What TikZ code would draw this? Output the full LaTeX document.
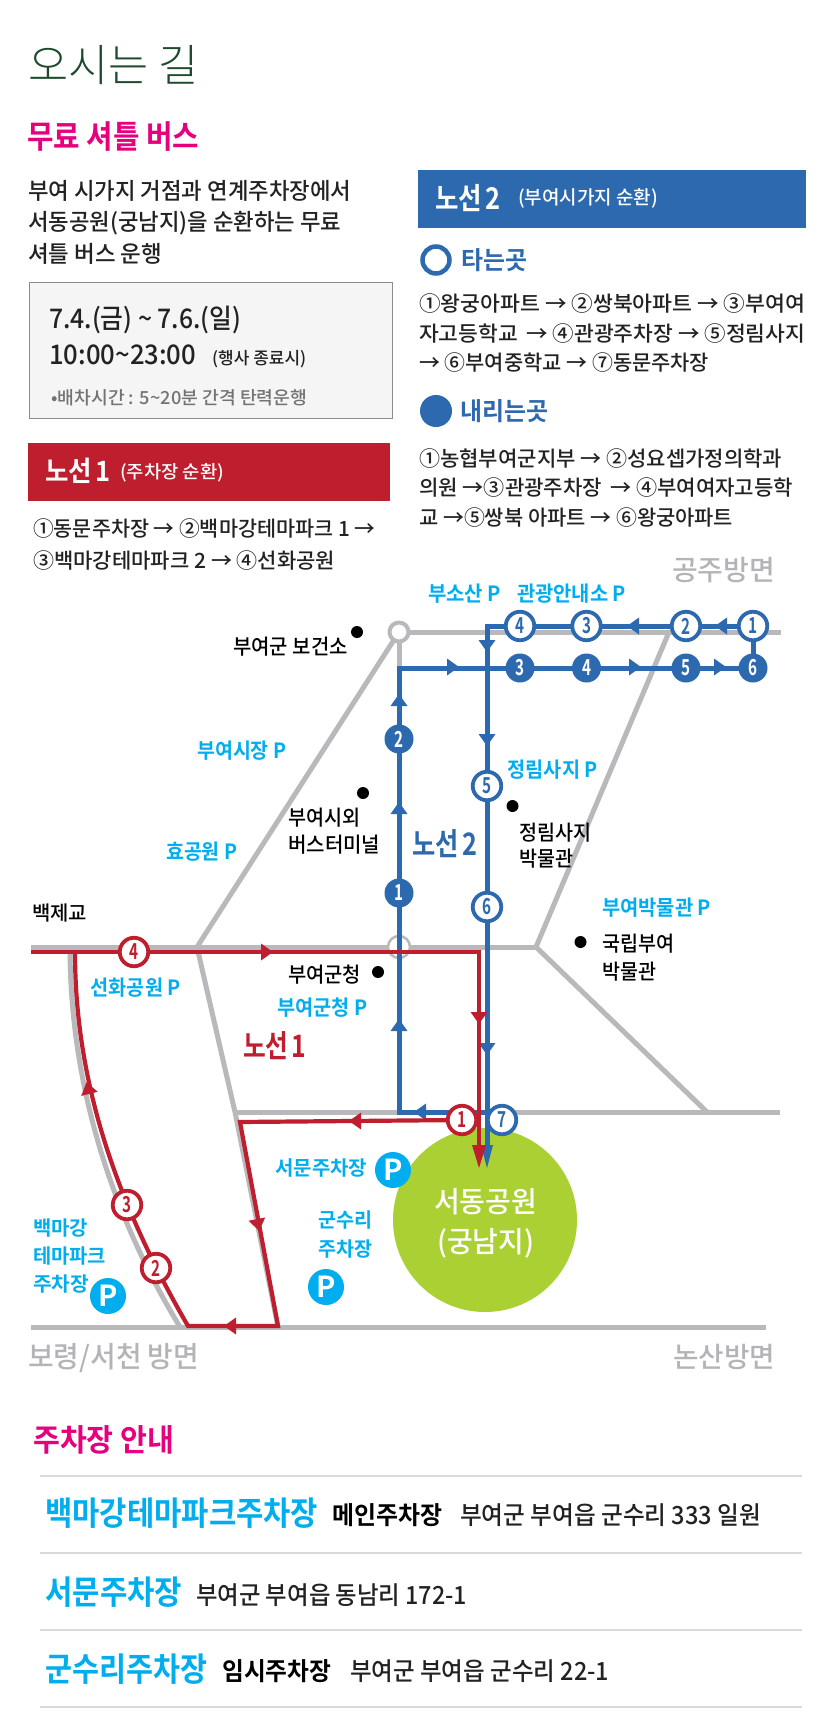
\documentclass[tikz,border=0pt]{standalone}
\usepackage{fontspec}
\usepackage{graphicx}
\usetikzlibrary{arrows.meta}
\setmainfont{Noto Sans CJK KR Medium}[BoldFont={Noto Sans CJK KR Bold}]
\newfontfamily\lightfont{Noto Sans CJK KR Light}
\definecolor{rblue}{HTML}{2D69AE}
\definecolor{rred}{HTML}{BE1E2D}
\definecolor{rcyan}{HTML}{00AEEF}
\definecolor{rmag}{HTML}{E6007E}
\definecolor{rroad}{HTML}{B9B9BC}
\definecolor{rgreen}{HTML}{ABD033}
\definecolor{rdir}{HTML}{B4B4B6}
\definecolor{rtxt}{HTML}{222222}
\definecolor{rtitle}{HTML}{1C4A2A}
\pgfdeclarelayer{road}
\pgfdeclarelayer{junct}
\pgfdeclarelayer{route}
\pgfsetlayers{road,junct,route,main}
\newcounter{tn}
\newcommand\lab[5]{\stepcounter{tn}\node[lbl,#4] (t\arabic{tn}) at (#1,{#2+1.5}) {\resizebox{#3pt}{\height}{\vphantom{(}#5}};}
\newcommand\hd[4]{\fill[#4,shift={(#1,#2)},rotate=#3] (6,0)--(-6,8.5)--(-6,-8.5)--cycle;}
\newcommand\sn[1]{\resizebox{9pt}{\height}{\bfseries #1}}
\tikzset{
  fs/.style={font=\fontsize{#1pt}{#1pt}\selectfont},
  lbl/.style={anchor=west,inner sep=0pt,text=rtxt},
  road/.style={draw=rroad,line width=5pt},
  bline/.style={draw=rblue,line width=5pt},
  rline/.style={draw=rred,line width=4.2pt},
  stopo/.style={circle,draw=#1,fill=white,line width=3.8pt,minimum size=28.5pt,inner sep=0pt,text=#1,fs=22},
  stopf/.style={circle,fill=rblue,minimum size=29pt,inner sep=0pt,text=white,fs=22},
  dot/.style={circle,fill=black,minimum size=12pt,inner sep=0pt},
  pbadge/.style={circle,fill=rcyan,minimum size=36pt,inner sep=0pt,text=white,font=\fontsize{29pt}{29pt}\selectfont\bfseries},
  cy/.style={fs=#1,text=rcyan},
  dirl/.style={fs=#1,text=rdir},
}
\begin{document}
\begin{tikzpicture}[x=1pt,y=-1pt]
\useasboundingbox (0,0) rectangle (835,1734);
\begin{pgfonlayer}{road}
\fill[white] (0,0) rectangle (835,1734);
\end{pgfonlayer}

% header
\lab{28}{66}{170}{fs=44,text=rtitle}{\lightfont 오시는 길}
\lab{27}{137}{172}{fs=32,text=rmag}{\bfseries 무료 셔틀 버스}
\lab{28}{191}{323}{fs=23}{부여 시가지 거점과 연계주차장에서}
\lab{28}{222}{313}{fs=23}{서동공원(궁남지)을 순환하는 무료}
\lab{28}{254}{134}{fs=23}{셔틀 버스 운행}

% info box
\node[draw=black!45,fill=black!4,line width=1.3pt,minimum width=363pt,minimum height=136pt,inner sep=0pt,anchor=north west] (infobox) at (28.5,282) {};
\lab{49}{318}{192}{fs=27}{7.4.(금) \textasciitilde{} 7.6.(일)}
\lab{49}{355}{147}{fs=27}{10:00\textasciitilde23:00}
\lab{212}{358}{94}{fs=17}{(행사 종료시)}
\lab{51}{397}{256}{fs=18,text=black!55}{•배차시간 : 5\textasciitilde20분 간격 탄력운행}

% route 1 panel
\node[fill=rred,minimum width=362pt,minimum height=58pt,inner sep=0pt,anchor=north west] (redbox) at (28,443) {};
\lab{45}{471}{65}{fs=28,text=white}{\bfseries 노선\hspace{.12em}1}
\lab{120}{471}{104}{fs=18,text=white}{(주차장 순환)}
\lab{33}{528}{342}{fs=21}{①동문주차장 → ②백마강테마파크 1 →}
\lab{33}{560}{302}{fs=21}{③백마강테마파크 2 → ④선화공원}

% route 2 panel
\node[fill=rblue,minimum width=388pt,minimum height=58pt,inner sep=0pt,anchor=north west] (bluebox) at (418,170) {};
\lab{435}{198}{65}{fs=30,text=white}{\bfseries 노선\hspace{.12em}2}
\lab{518}{197}{140}{fs=19,text=white}{(부여시가지 순환)}
\node[circle,draw=rblue,fill=white,line width=4.5pt,minimum size=27pt,inner sep=0pt] (legopen) at (436,260) {};
\lab{461}{260}{66}{fs=25,text=rblue}{\bfseries 타는곳}
\lab{419}{303}{386}{fs=21}{①왕궁아파트 → ②쌍북아파트 → ③부여여}
\lab{419}{333}{386}{fs=21}{자고등학교 \,→ ④관광주차장 → ⑤정림사지}
\lab{419}{362}{290}{fs=21}{→ ⑥부여중학교 → ⑦동문주차장}
\node[circle,fill=rblue,minimum size=32pt,inner sep=0pt] (legfill) at (436,411) {};
\lab{460}{411}{88}{fs=25,text=rblue}{\bfseries 내리는곳}
\lab{419}{458}{363}{fs=21}{①농협부여군지부 → ②성요셉가정의학과}
\lab{419}{487}{374}{fs=21}{의원 →③관광주차장 \,→ ④부여여자고등학}
\lab{419}{517}{314}{fs=21}{교 →⑤쌍북 아파트 → ⑥왕궁아파트}

% map: junctions and park
\begin{pgfonlayer}{junct}
\node[circle,draw=rroad,fill=white,line width=4pt,minimum size=19pt,inner sep=0pt] (j1) at (399,632) {};
\node[circle,draw=rroad,fill=white,line width=2.5pt,minimum size=22pt,inner sep=0pt] (j2) at (399,947) {};
\node[circle,fill=rgreen,minimum size=184pt,inner sep=0pt] (park) at (485,1220) {};
\end{pgfonlayer}
\lab{434}{1202}{103}{fs=29,text=white}{서동공원}
\lab{437}{1242}{97}{fs=29,text=white}{(궁남지)}

% named points of the roads
\coordinate (rE) at (781,632);
\coordinate (rS1) at (669,632);
\coordinate (rX) at (536,947);
\coordinate (rW) at (31,947);
\coordinate (rY) at (197,947);
\coordinate (rSE) at (707,1112);
\coordinate (rSEe) at (780,1112);
\coordinate (rM) at (235,1112);
\coordinate (rB) at (278,1327);
\coordinate (rBw) at (31,1327);
\coordinate (rBe) at (766,1327);
\coordinate (rC1) at (70,947);
\coordinate (rC2) at (180,1327);
\begin{pgfonlayer}{road}
\draw[road] (j1.center) -- (rE);
\draw[road] (j1.center) -- (rY);
\draw[road] (j1.center) -- (j2.center);
\draw[road] (rS1) -- (rX);
\draw[road] (rW) -- (rX);
\draw[road] (rY) -- (rM) -- (rB);
\draw[road] (rX) -- (rSE);
\draw[road] (rM) -- (rSEe);
\draw[road] (rBw) -- (rBe);
\draw[road] (rC1) .. controls (70,1090) and (115,1220) .. (rC2);
\end{pgfonlayer}

% blue stops
\node[stopo=rblue] (bo1) at (753,626) {\sn{1}};
\node[stopo=rblue] (bo2) at (686,626) {\sn{2}};
\node[stopo=rblue] (bo3) at (586.5,626) {\sn{3}};
\node[stopo=rblue] (bo4) at (520,626) {\sn{4}};
\node[stopo=rblue] (bo5) at (487,786) {\sn{5}};
\node[stopo=rblue] (bo6) at (487,907) {\sn{6}};
\node[stopo=rblue] (bo7) at (502,1120) {\sn{7}};
\node[stopf] (bf1) at (399,893) {\sn{1}};
\node[stopf] (bf2) at (399,739) {\sn{2}};
\node[stopf] (bf3) at (520,668) {\sn{3}};
\node[stopf] (bf4) at (586.5,668) {\sn{4}};
\node[stopf] (bf5) at (686,668) {\sn{5}};
\node[stopf] (bf6) at (753,668) {\sn{6}};
% red stops
\node[stopo=rred] (ro1) at (462,1120) {\sn{1}};
\node[stopo=rred] (ro2) at (156,1268) {\sn{2}};
\node[stopo=rred] (ro3) at (127,1205) {\sn{3}};
\node[stopo=rred] (ro4) at (134,952) {\sn{4}};

% named bends of the routes
\coordinate (bA) at (399,1112);
\coordinate (bA2) at (502,1112);
\coordinate (bB) at (399,668);
\coordinate (bC) at (487,626);
\coordinate (bEnd) at (487,1168);
\coordinate (bEndB) at (487,1150);
\coordinate (r1A) at (240,1122);
\coordinate (r1B) at (278,1326);
\coordinate (r1C) at (188,1326);
\coordinate (r1D) at (75,952);
\coordinate (r1W) at (31,952);
\coordinate (r1E) at (479,952);
\coordinate (r1End) at (479,1168);
\coordinate (r1EndB) at (479,1150);

\begin{pgfonlayer}{route}
\draw[bline] (bo7.center) -- (bA2) -- (bA) -- (bB) -- (bf6.center) -- (bo1.center) -- (bC) -- (bEndB);
\fill[rblue] (bEnd) -- (481,1145) -- (493,1145) -- cycle;
\hd{399}{700}{90}{rblue}
\hd{399}{808}{90}{rblue}
\hd{399}{1025}{90}{rblue}
\hd{420}{1112}{180}{rblue}
\hd{453}{667}{0}{rblue}
\hd{635}{667}{0}{rblue}
\hd{720}{667}{0}{rblue}
\hd{633}{626}{180}{rblue}
\hd{721}{626}{180}{rblue}
\hd{487}{646}{-90}{rblue}
\hd{487}{740}{-90}{rblue}
\hd{487}{1049}{-90}{rblue}
\draw[rline,line join=miter] (ro1.center) -- (r1A) -- (r1B) -- (r1C) .. controls (118,1205) and (75,1085) .. (r1D);
\draw[rline,line join=miter] (r1W) -- (r1E) -- (r1EndB);
\fill[rred] (r1End) -- (472,1145) -- (486,1145) -- cycle;
\hd{267}{952}{0}{rred}
\hd{88}{1088}{104}{rred}
\hd{230}{1326}{180}{rred}
\hd{258}{1225}{-79}{rred}
\hd{355}{1121}{180}{rred}
\hd{479}{1018}{-90}{rred}
\end{pgfonlayer}

% map labels
\lab{672}{570}{103}{dirl=28}{공주방면}
\lab{28}{1357}{171}{dirl=29}{보령/서천 방면}
\lab{673}{1357}{102}{dirl=28}{논산방면}
\lab{428}{593}{73}{cy=21}{\bfseries 부소산 P}
\lab{517}{593}{109}{cy=21}{\bfseries 관광안내소 P}
\lab{197}{750}{89}{cy=21}{\bfseries 부여시장 P}
\lab{166}{851}{71}{cy=21}{\bfseries 효공원 P}
\lab{507.5}{769}{90}{cy=21}{\bfseries 정림사지 P}
\lab{602}{907}{109}{cy=21}{\bfseries 부여박물관 P}
\lab{90.5}{987}{90}{cy=21}{\bfseries 선화공원 P}
\lab{277}{1007}{90}{cy=21}{\bfseries 부여군청 P}
\lab{275}{1168}{92}{cy=20}{\bfseries 서문주차장}
\lab{318}{1220}{54}{cy=20}{\bfseries 군수리}
\lab{318}{1249}{54}{cy=20}{\bfseries 주차장}
\lab{33}{1228}{55}{cy=20}{\bfseries 백마강}
\lab{33}{1256}{73}{cy=20}{\bfseries 테마파크}
\lab{33}{1284}{56}{cy=20}{\bfseries 주차장}

\lab{233}{646}{114.5}{fs=21,text=black}{부여군 보건소}
\lab{288}{817}{72}{fs=21,text=black}{부여시외}
\lab{288}{844}{92}{fs=21,text=black}{버스터미널}
\lab{519.5}{832}{72}{fs=21,text=black}{정림사지}
\lab{519.5}{858}{54}{fs=21,text=black}{박물관}
\lab{32}{913}{55}{fs=20,text=black}{백제교}
\lab{602}{943}{72}{fs=21,text=black}{국립부여}
\lab{602}{971}{54}{fs=21,text=black}{박물관}
\lab{288}{974}{73}{fs=21,text=black}{부여군청}
\lab{412.5}{844}{64.5}{fs=31,text=rblue}{\bfseries 노선\hspace{.12em}2}
\lab{243}{1046}{63}{fs=31,text=rred}{\bfseries 노선\hspace{.12em}1}

\node[dot] (d1) at (357,632) {};
\node[dot] (d2) at (363,793) {};
\node[dot] (d3) at (512.5,806) {};
\node[dot] (d4) at (580.5,942) {};
\node[dot] (d5) at (378,972) {};
\node[pbadge] (p1) at (393,1170) {P};
\node[pbadge] (p2) at (326,1287) {P};
\node[pbadge] (p3) at (108,1296) {P};

% parking list
\lab{33}{1440}{141}{fs=31,text=rmag}{\bfseries 주차장 안내}
\coordinate (g1) at (40,1476);\coordinate (g1e) at (802,1476);
\coordinate (g2) at (40,1553);\coordinate (g2e) at (802,1553);
\coordinate (g3) at (40,1630);\coordinate (g3e) at (802,1630);
\coordinate (g4) at (40,1707);\coordinate (g4e) at (802,1707);
\draw[black!15,line width=1.5pt] (g1) -- (g1e) (g2) -- (g2e) (g3) -- (g3e) (g4) -- (g4e);
\lab{45}{1513}{273}{cy=33}{\bfseries 백마강테마파크주차장}
\lab{332}{1515}{110}{fs=25,text=black}{\bfseries 메인주차장}
\lab{460}{1515}{301}{fs=25}{부여군 부여읍 군수리 333 일원}
\lab{45}{1592}{137}{cy=33}{\bfseries 서문주차장}
\lab{196}{1595}{271}{fs=25}{부여군 부여읍 동남리 172-1}
\lab{45}{1669}{162}{cy=33}{\bfseries 군수리주차장}
\lab{222}{1671}{109}{fs=25,text=black}{\bfseries 임시주차장}
\lab{350}{1671}{259}{fs=25}{부여군 부여읍 군수리 22-1}
\end{tikzpicture}
\end{document}
